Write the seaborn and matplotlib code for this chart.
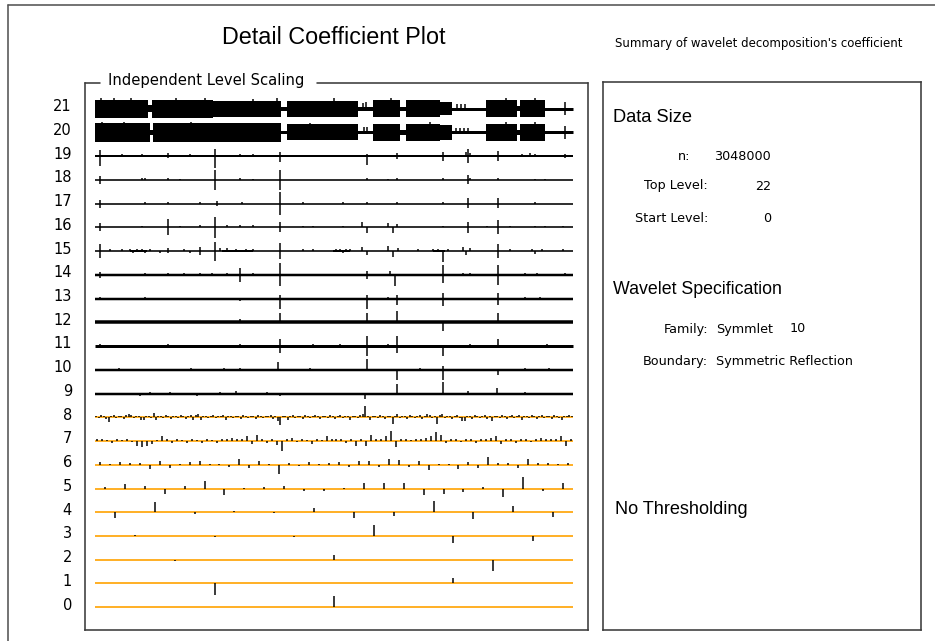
import numpy as np
import pandas as pd
import matplotlib
matplotlib.use("Agg")
import matplotlib.pyplot as plt
from matplotlib.lines import Line2D
import seaborn as sns

# ======================
# data
# ======================
# levels 0-8: every detail coefficient, scaled so max |c| = 1 per level
lvl0 = [1.0]
lvl1 = [-1.0, 0.45]
lvl2 = [-0.1, 0.45, -1.0]
lvl3 = [0.08, -0.08, -0.12, 1.0, -0.62, -0.45]
lvl4 = [-0.5, 0.9, -0.12, 0.12, -0.1, 0.35, -0.5, -0.35, 1.0, -0.55, 0.55, -0.45]
lvl5 = [0.1, 0.4, 0.2, -0.5, 0.2, 0.65, -0.55, 0.08, 0.1, 0.2, -0.2, -0.2,
        0.08, 0.45, 0.5, 0.45, -0.6, -0.45, -0.3, 0.15, -0.75, 1.0, -0.2, 0.5]
lvl6 = [0.2, 0.1, 0.2, 0.15, 0.15, -0.4, 0.35, -0.25, 0.1, 0.2, 0.35, 0.1,
        0.1, -0.2, 0.5, -0.25, 0.35, 0.1, -0.85, 0.15, -0.15, 0.2, 0.1, 0.15,
        0.2, -0.2, 0.3, 0.35, -0.2, 0.5, 0.4, -0.2, 0.3, -0.5, 0.1, 0.08,
        -0.35, 0.2, -0.25, 0.65, 0.15, 0.15, -0.25, 0.5, 0.15, 0.15, 0.1, 0.15]
lvl7 = [0.2, 0.15, 0.1, -0.15, 0.15, 0.1, 0.2, -0.1, -0.4, -0.55, -0.4, -0.25,
        0.1, 0.4, 0.15, -0.15, 0.2, 0.1, -0.15, 0.15, 0.1, -0.2, 0.15, 0.1,
        -0.15, 0.2, 0.15, 0.25, 0.2, 0.15, 0.4, -0.3, 0.55, 0.2, -0.15, 0.2,
        -0.35, -0.85, 0.15, 0.3, -0.1, 0.15, 0.1, -0.3, 0.15, 0.1, 0.4, 0.2,
        0.15, 0.2, -0.15, 0.2, -0.4, 0.2, -0.45, 0.5, 0.15, 0.2, 0.4, 0.85,
        -0.55, 0.2, 0.15, 0.1, 0.2, 0.15, 0.3, 0.4, 0.8, 0.5, -0.15, 0.2,
        0.15, -0.1, 0.2, 0.15, -0.2, 0.15, 0.2, 0.3, 0.4, -0.3, 0.15, 0.2,
        -0.15, 0.15, 0.2, -0.1, 0.2, 0.3, 0.15, 0.2, 0.15, 0.4, -0.4, 0.2]
lvl8 = [0.15, -0.1, 0.2, 0.1, -0.15, -0.45, 0.1, 0.2, -0.1, 0.15, 0.1, -0.15, 0.2, 0.25, 0.2, -0.1,
        0.1, 0.15, -0.2, -0.2, 0.1, 0.15, -0.1, 0.35, -0.25, 0.1, 0.15, -0.1, 0.2, 0.1, -0.15, 0.1,
        0.15, -0.1, 0.2, 0.1, -0.15, 0.1, 0.2, -0.25, 0.2, 0.25, -0.2, 0.1, 0.15, -0.1, 0.1, 0.2,
        -0.1, 0.15, 0.1, 0.2, -0.2, 0.15, 0.1, -0.1, 0.15, 0.1, -0.15, 0.2, 0.1, -0.1, 0.15, 0.1,
        -0.15, 0.2, 0.1, -0.1, 0.15, 0.1, 0.2, -0.15, 0.1, -0.3, -0.65, 0.15, 0.1, -0.2, 0.15, 0.2,
        -0.1, 0.1, 0.15, -0.15, 0.2, 0.1, -0.1, 0.15, 0.2, 0.1, -0.15, 0.1, 0.15, -0.1, 0.2, 0.1,
        -0.15, 0.15, 0.2, -0.1, 0.1, 0.15, -0.2, 0.1, 0.15, -0.1, 0.2, 0.25, 1.0, 0.15, -0.2, 0.1,
        0.15, -0.1, 0.2, 0.1, -0.15, 0.15, 0.1, -0.6, 0.15, 0.3, -0.1, 0.15, 0.1, -0.15, 0.2, 0.1,
        -0.1, 0.15, 0.2, -0.15, 0.1, 0.25, 0.2, -0.1, 0.15, -0.55, 0.2, 0.25, -0.1, 0.15, 0.1, -0.15,
        0.1, 0.2, -0.1, -0.3, -0.3, 0.15, 0.1, -0.15, 0.2, 0.1, -0.1, 0.15, 0.2, -0.15, 0.1, -0.3,
        0.15, 0.1, -0.1, 0.2, 0.15, -0.15, 0.1, 0.2, -0.1, 0.15, 0.2, -0.2, 0.1, 0.15, -0.1, 0.2,
        0.1, -0.15, 0.15, 0.2, -0.1, 0.1, 0.15, -0.15, 0.2, 0.1, -0.1, -0.25, 0.15, 0.1, 0.2, 0.15]

# levels 9-21 are too dense to read one by one: visible spikes (position, value)
lvl9_spikes = [(0.094, -0.2), (0.115, 0.15), (0.157, 0.15), (0.213, -0.2), (0.262, 0.15),
               (0.295, 0.2), (0.360, 0.15), (0.387, -0.2), (0.565, -0.45), (0.632, 0.85),
               (0.728, 1.0), (0.780, 0.2), (0.841, 0.5), (0.900, 0.15), (0.950, -0.15)]
lvl10_spikes = [(0.05, 0.15), (0.12, -0.12), (0.2, 0.15), (0.27, 0.12), (0.303, 0.2),
                (0.383, 0.7), (0.45, 0.15), (0.5, -0.12), (0.569, 0.95), (0.632, -0.9),
                (0.68, 0.15), (0.728, 0.3), (0.728, -0.9), (0.8, -0.12), (0.843, -0.5),
                (0.9, 0.15), (0.95, 0.12)]
lvl11_spikes = [(0.010, 0.15), (0.153, 0.2), (0.262, -0.2), (0.303, 0.2), (0.387, 0.6),
                (0.387, -0.6), (0.456, 0.15), (0.513, 0.15), (0.569, 0.85), (0.569, -0.85),
                (0.613, 0.2), (0.632, 0.85), (0.632, -0.6), (0.728, -0.9), (0.785, 0.15),
                (0.843, 0.6), (0.945, 0.15), (0.960, 0.12), (0.975, 0.12)]
lvl12_spikes = [(0.303, 0.25), (0.387, 0.85), (0.569, 0.85), (0.632, 0.95), (0.728, -0.8),
                (0.843, 0.8)]
lvl13_spikes = [(0.010, 0.15), (0.105, 0.15), (0.303, -0.2), (0.387, 0.3), (0.387, -0.9),
                (0.569, 0.3), (0.569, -0.9), (0.613, 0.12), (0.632, 0.3), (0.632, -0.6),
                (0.728, 0.5), (0.728, -0.65), (0.843, 0.5), (0.843, -0.6), (0.900, 0.12),
                (0.930, 0.12)]
lvl14_spikes = [(0.010, 0.25), (0.010, -0.25), (0.105, 0.15), (0.153, 0.15), (0.186, 0.15),
                (0.220, 0.15), (0.245, 0.15), (0.276, 0.15), (0.303, 0.6), (0.303, -0.6),
                (0.331, 0.15), (0.387, 1.0), (0.387, -1.0), (0.569, 0.35), (0.569, -0.35),
                (0.617, 0.3), (0.627, -0.95), (0.728, 0.85), (0.728, -0.7), (0.770, 0.2),
                (0.785, 0.2), (0.843, 0.85), (0.843, -0.85), (0.900, 0.15), (0.925, 0.15),
                (0.983, 0.15)]
lvl15_spikes = [(0.010, 0.6), (0.010, -0.6), (0.031, 0.15), (0.056, 0.15), (0.073, 0.2),
                (0.080, -0.15), (0.088, 0.2), (0.098, 0.2), (0.105, -0.2), (0.115, 0.2),
                (0.136, -0.15), (0.153, 0.25), (0.153, -0.2), (0.186, 0.15), (0.199, -0.15),
                (0.220, 0.35), (0.220, -0.3), (0.251, 0.8), (0.251, -0.85), (0.262, 0.3),
                (0.276, 0.25), (0.295, 0.2), (0.316, 0.15), (0.331, 0.2), (0.387, 0.7),
                (0.387, -0.65), (0.435, 0.15), (0.456, 0.15), (0.505, 0.15), (0.513, 0.2),
                (0.519, -0.2), (0.526, 0.15), (0.533, 0.15), (0.559, 0.35), (0.569, -0.35),
                (0.613, 0.45), (0.623, -0.5), (0.634, 0.3), (0.676, 0.15), (0.707, 0.2),
                (0.718, 0.2), (0.728, -0.95), (0.738, 0.15), (0.770, 0.35), (0.776, -0.35),
                (0.785, 0.3), (0.843, 0.6), (0.843, -0.6), (0.868, 0.2), (0.915, 0.2),
                (0.921, -0.25), (0.935, 0.15), (0.979, 0.15)]
lvl16_spikes = [(0.010, 0.35), (0.010, -0.35), (0.098, 0.15), (0.153, 0.7), (0.153, -0.7),
                (0.178, 0.12), (0.220, 0.25), (0.251, 0.9), (0.251, -0.95), (0.276, 0.2),
                (0.303, 0.2), (0.331, 0.2), (0.387, 0.45), (0.387, -0.45), (0.435, 0.12),
                (0.456, 0.12), (0.519, 0.12), (0.559, 0.45), (0.569, -0.5), (0.613, 0.4),
                (0.623, -0.5), (0.632, 0.3), (0.728, 0.15), (0.780, 0.5), (0.780, -0.5),
                (0.820, 0.15), (0.843, 0.65), (0.843, -0.6), (0.868, 0.15), (0.921, 0.15),
                (0.941, 0.12), (0.979, 0.12)]
lvl17_spikes = [(0.010, 0.35), (0.010, -0.35), (0.105, 0.12), (0.153, 0.12), (0.220, 0.12),
                (0.255, 0.25), (0.255, -0.25), (0.308, 0.12), (0.387, 1.0), (0.387, -1.0),
                (0.435, 0.12), (0.519, 0.12), (0.569, 0.12), (0.632, 0.12), (0.728, 0.12),
                (0.780, 0.45), (0.780, -0.4), (0.843, 0.45), (0.843, -0.4), (0.921, 0.12)]
lvl18_spikes = [(0.010, 0.3), (0.010, -0.35), (0.098, 0.15), (0.105, 0.15), (0.153, 0.15),
                (0.178, 0.12), (0.251, 0.85), (0.251, -0.85), (0.303, 0.15), (0.331, 0.12),
                (0.387, 0.9), (0.387, -0.85), (0.569, 0.15), (0.613, 0.12), (0.632, 0.15),
                (0.728, 0.15), (0.780, 0.4), (0.780, -0.35), (0.785, 0.2), (0.843, 0.15),
                (0.921, 0.12), (0.941, 0.12)]
lvl19_spikes = [(0.010, 0.5), (0.010, -0.85), (0.056, 0.15), (0.098, 0.15), (0.153, 0.25),
                (0.153, -0.2), (0.199, 0.2), (0.251, 0.6), (0.251, -1.0), (0.303, 0.15),
                (0.331, 0.15), (0.387, 0.35), (0.387, -0.55), (0.435, 0.12), (0.519, 0.12),
                (0.569, 0.2), (0.569, -0.8), (0.632, 0.3), (0.632, -0.25), (0.728, 0.4),
                (0.728, -0.4), (0.776, 0.4), (0.780, 0.6), (0.780, -0.6), (0.785, 0.3),
                (0.843, 0.45), (0.843, -0.45), (0.893, 0.2), (0.910, 0.25), (0.921, 0.15),
                (0.983, 0.2), (0.983, -0.2)]
lvl20_spikes = [(0.015, 0.9), (0.06, 0.9), (0.13, 0.85), (0.2, 0.9), (0.3, 0.85),
                (0.45, 0.85), (0.562, 0.5), (0.57, 0.5), (0.7, 0.9), (0.755, 0.4),
                (0.763, 0.4), (0.771, 0.4), (0.78, 0.4), (0.86, 0.9), (0.92, 0.9),
                (0.983, 0.6), (0.983, -0.6)]
lvl21_spikes = [(0.012, 0.95), (0.04, 0.9), (0.075, 0.95), (0.17, 0.95), (0.23, 0.9),
                (0.33, 0.85), (0.38, 0.9), (0.5, 0.9), (0.56, 0.5), (0.567, 0.55),
                (0.62, 0.9), (0.757, 0.45), (0.765, 0.45), (0.775, 0.45), (0.86, 0.9),
                (0.92, 0.9), (0.983, 0.6), (0.983, -0.6)]

# solid noise envelopes (start, end, half height)
lvl20_bands = [(0.0, 0.115, 0.8), (0.115, 0.121, 0.2), (0.121, 0.389, 0.8), (0.389, 0.402, 0.12),
               (0.402, 0.550, 0.7), (0.550, 0.582, 0.15), (0.582, 0.638, 0.75), (0.638, 0.651, 0.2),
               (0.651, 0.722, 0.75), (0.722, 0.747, 0.65), (0.747, 0.818, 0.12), (0.818, 0.883, 0.75),
               (0.883, 0.889, 0.2), (0.889, 0.941, 0.75), (0.941, 1.0, 0.1)]
lvl21_bands = [(0.0, 0.111, 0.8), (0.111, 0.119, 0.3), (0.119, 0.247, 0.8), (0.247, 0.389, 0.7),
               (0.389, 0.402, 0.12), (0.402, 0.550, 0.7), (0.550, 0.582, 0.12), (0.582, 0.638, 0.75),
               (0.638, 0.651, 0.12), (0.651, 0.722, 0.75), (0.722, 0.747, 0.6), (0.747, 0.818, 0.1),
               (0.818, 0.883, 0.75), (0.883, 0.889, 0.2), (0.889, 0.941, 0.75), (0.941, 1.0, 0.1)]
lvl15_bands = [(0.073, 0.109, 0.07), (0.266, 0.331, 0.06), (0.498, 0.533, 0.07), (0.707, 0.732, 0.07)]

# baseline thickness (px) of the black levels
black_lw = {9: 2.5, 10: 2.5, 11: 3.0, 12: 3.5, 13: 2.5, 14: 2.5, 15: 1.6, 16: 1.6,
            17: 1.6, 18: 1.6, 19: 2.0, 20: 3.0, 21: 3.0}

level_labels = [str(k) for k in range(22)]

info_rows = [("n:", "3048000", 157), ("Top Level:", "22", 186), ("Start Level:", "0", 219)]
spec_rows = [("Family:", "Symmlet", 329), ("Boundary:", "Symmetric Reflection", 362)]

# ======================
# figure
# ======================
W, H, DPI = 935, 641, 100
PX = 72.0 / DPI  # points per pixel

sns.set_theme(style="white")
plt.rcParams["font.family"] = ["Liberation Sans", "DejaVu Sans"]

fig = plt.figure(figsize=(W / DPI, H / DPI), dpi=DPI)
fig.patch.set_facecolor("white")
renderer = fig.canvas.get_renderer()

ORANGE = "#ffb12a"
EDGE = "#3c3c3c"
AMP = 0.48  # level units for |coef| = 1

# left panel: box 85..588 x 83..630 px, lines 95..573, level 0 at 607.2, spacing 23.74
L, R, T, B = 85, 588, 82.7, 630
x0, x1 = 95, 573
y0, dy = 607.2, 23.74
ax = fig.add_axes([L / W, 1 - B / H, (R - L) / W, (B - T) / H])
ax.set_xlim(-(x0 - L) / (x1 - x0), 1 + (R - x1) / (x1 - x0))
ax.set_ylim(-(B - y0) / dy, 21 + (y0 - 21 * dy - T) / dy)
ax.set_facecolor("white")

coef_levels = [lvl0, lvl1, lvl2, lvl3, lvl4, lvl5, lvl6, lvl7, lvl8]
for k, vals in enumerate(coef_levels):
    df = pd.DataFrame({"pos": (np.arange(len(vals)) + 0.5) / len(vals), "val": vals})
    ax.hlines(k, 0, 1, color=ORANGE, lw=2.0 * PX, zorder=2)
    ax.vlines(df["pos"], k, k + AMP * df["val"], color="black", lw=1.5 * PX, zorder=3)

spike_levels = {9: lvl9_spikes, 10: lvl10_spikes, 11: lvl11_spikes, 12: lvl12_spikes,
                13: lvl13_spikes, 14: lvl14_spikes, 15: lvl15_spikes, 16: lvl16_spikes,
                17: lvl17_spikes, 18: lvl18_spikes, 19: lvl19_spikes, 20: lvl20_spikes,
                21: lvl21_spikes}
band_levels = {15: lvl15_bands, 20: lvl20_bands, 21: lvl21_bands}

for k, spikes in spike_levels.items():
    ax.hlines(k, 0, 1, color="black", lw=black_lw[k] * PX, zorder=2)
    for s, e, a in band_levels.get(k, []):
        ax.fill_between([s, e], k - AMP * a, k + AMP * a, color="black", lw=0, zorder=2)
    sp = pd.DataFrame(spikes, columns=["pos", "val"])
    ax.vlines(sp["pos"], k, k + AMP * sp["val"], color="black", lw=1.5 * PX, zorder=3)

ax.set_xticks([])
ax.set_yticks(np.arange(22) + 0.15)
ax.set_yticklabels(level_labels, fontsize=10.5, family="DejaVu Sans", color="black")
ax.tick_params(axis="y", length=0, pad=13 * PX)
for side in ["left", "right", "bottom"]:
    ax.spines[side].set_color(EDGE)
    ax.spines[side].set_linewidth(1.6 * PX)
ax.spines["top"].set_visible(False)


def fline(xa, ya, xb, yb, lw=1.6, color=EDGE):
    fig.add_artist(Line2D([xa / W, xb / W], [1 - ya / H, 1 - yb / H], lw=lw * PX,
                          color=color, transform=fig.transFigure))


# top edge of the left box, broken by its caption
fline(L, T, 100, T)
fline(317, T, R, T)


def ptext(s, x, y, width=None, size=10, ha="left", family="Liberation Sans"):
    t = fig.text(x / W, 1 - y / H, s, ha=ha, va="center", fontsize=size, family=family,
                 color="black")
    if width:
        w = t.get_window_extent(renderer).width
        t.set_fontsize(size * width / w)
    return t


ptext("Independent Level Scaling", 108, 80, width=195, family="DejaVu Sans")
ptext("Detail Coefficient Plot", 222, 38, width=224)
ptext("Summary of wavelet decomposition's coefficient", 615, 43, width=288, family="DejaVu Sans")

# right panel
RB = 921
ax2 = fig.add_axes([603 / W, 1 - 630 / H, (RB - 603) / W, (630 - 82) / H])
ax2.set_xticks([])
ax2.set_yticks([])
for side in ax2.spines:
    ax2.spines[side].set_color(EDGE)
    ax2.spines[side].set_linewidth(1.6 * PX)

SMALL = 9.2
ptext("Data Size", 613, 118, width=79)
ptext(info_rows[0][0], 690, info_rows[0][2], size=SMALL, ha="right", family="DejaVu Sans")
for lab, val, y in info_rows[1:]:
    ptext(lab, 708, y, size=SMALL, ha="right", family="DejaVu Sans")
for lab, val, y in info_rows:
    ptext(val, 771, y, size=SMALL, ha="right", family="DejaVu Sans")
ptext("Wavelet Specification", 613, 289, width=170)
for lab, val, y in spec_rows:
    ptext(lab, 708, y, size=SMALL, ha="right", family="DejaVu Sans")
    ptext(val, 716, y, size=SMALL, family="DejaVu Sans")
ptext("10", 790, spec_rows[0][2], size=SMALL, family="DejaVu Sans")
ptext("No Thresholding", 615, 510, width=133)

# outer frame (only top and left edges fall inside the image)
fline(8, 5, W, 5, color="#555555")
fline(8, 5, 8, H, color="#555555")

fig.savefig("out.png", dpi=DPI)
